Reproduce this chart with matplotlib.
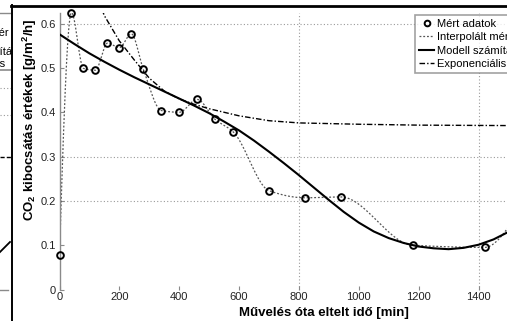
import numpy as np
import matplotlib
matplotlib.use("Agg")
import matplotlib.pyplot as plt

plt.rcParams['font.family'] = ['Liberation Sans', 'DejaVu Sans']
plt.rcParams['mathtext.fontset'] = 'custom'
plt.rcParams['mathtext.bf'] = 'Liberation Sans:bold'
plt.rcParams['mathtext.rm'] = 'Liberation Sans:bold'
plt.rcParams['mathtext.default'] = 'bf'

# ---------------- data ----------------
time_min = [0, 40, 80, 120, 160, 200, 240, 280, 340, 400, 460, 520, 580,
            700, 820, 940, 1180, 1420, 1540]
co2_measured = [0.078, 0.625, 0.499, 0.495, 0.556, 0.546, 0.577, 0.497, 0.404,
                0.400, 0.429, 0.384, 0.356, 0.223, 0.207, 0.209, 0.100, 0.095, 0.18]

model_time = [0, 50, 100, 150, 200, 250, 300, 350, 400, 450, 500, 550, 600,
              650, 700, 750, 800, 850, 900, 950, 1000, 1050, 1100, 1150, 1200,
              1250, 1300, 1350, 1400, 1450, 1500]
model_values = [0.576, 0.554, 0.533, 0.514, 0.496, 0.479, 0.463, 0.447, 0.431,
                0.415, 0.398, 0.379, 0.359, 0.336, 0.311, 0.285, 0.258, 0.230,
                0.202, 0.175, 0.151, 0.131, 0.116, 0.105, 0.097, 0.093, 0.091,
                0.094, 0.101, 0.113, 0.130]

exp_time = [120, 150, 200, 250, 300, 350, 400, 450, 500, 600, 700, 800, 1000,
            1200, 1500]
exp_values = [0.670, 0.618, 0.561, 0.518, 0.477, 0.448, 0.430, 0.418, 0.408,
              0.392, 0.381, 0.376, 0.373, 0.371, 0.370]

x_ticks = [0, 200, 400, 600, 800, 1000, 1200, 1400]
y_ticks = [0, 0.1, 0.2, 0.3, 0.4, 0.5, 0.6]
y_tick_labels = ['0', '0.1', '0.2', '0.3', '0.4', '0.5', '0.6']

legend_labels = ['Mért adatok', 'Interpolált mérési adatok', 'Modell számítás',
                 'Exponenciális illesztés']


def pchip(x, y, xq):
    x = np.asarray(x, float)
    y = np.asarray(y, float)
    xq = np.asarray(xq, float)
    h = np.diff(x)
    d = np.diff(y) / h
    n = len(x)
    m = np.zeros(n)
    for k in range(1, n - 1):
        if d[k - 1] * d[k] > 0:
            w1 = 2 * h[k] + h[k - 1]
            w2 = h[k] + 2 * h[k - 1]
            m[k] = (w1 + w2) / (w1 / d[k - 1] + w2 / d[k])

    def end(h0, h1, d0, d1):
        s = ((2 * h0 + h1) * d0 - h0 * d1) / (h0 + h1)
        if np.sign(s) != np.sign(d0):
            s = 0.0
        elif np.sign(d0) != np.sign(d1) and abs(s) > abs(3 * d0):
            s = 3 * d0
        return s

    m[0] = end(h[0], h[1], d[0], d[1])
    m[-1] = end(h[-1], h[-2], d[-1], d[-2])
    idx = np.clip(np.searchsorted(x, xq) - 1, 0, n - 2)
    t = (xq - x[idx]) / h[idx]
    hh = h[idx]
    h00 = 2 * t**3 - 3 * t**2 + 1
    h10 = t**3 - 2 * t**2 + t
    h01 = -2 * t**3 + 3 * t**2
    h11 = t**3 - t**2
    return h00 * y[idx] + h10 * hh * m[idx] + h01 * y[idx + 1] + h11 * hh * m[idx + 1]


W, H = 507, 321
fig = plt.figure(figsize=(W / 100, H / 100), dpi=100)
fig.patch.set_facecolor('white')

x0_px, y0_px, ytop_px = 59.5, 289.5, 12.6
px_per_min = 0.2993
xmax = (W - x0_px) / px_per_min
ax = fig.add_axes([x0_px / W, (H - y0_px) / H, (W - x0_px) / W, (y0_px - ytop_px) / H])
ax.set_xlim(0, xmax)
ax.set_ylim(0, 0.625)

for s in ['top', 'right', 'bottom']:
    ax.spines[s].set_visible(False)
ax.spines['left'].set_color('#8a8a8a')
ax.spines['left'].set_linewidth(1.0)

# visible grid lines
for gy in [0.2, 0.3, 0.6]:
    ax.axhline(gy, color='#9a9a9a', lw=0.8, ls=(0, (1, 2)), zorder=0)
for gx in [800, 1400]:
    ax.axvline(gx, color='#9a9a9a', lw=0.8, ls=(0, (1, 2)), zorder=0)

xf = np.linspace(time_min[0], time_min[-1], 800)
yf = pchip(time_min, co2_measured, xf)
l_int, = ax.plot(xf, yf, color='#555555', lw=0.9, ls=(0, (1.5, 1.5)), zorder=2)
l_mod, = ax.plot(model_time, model_values, color='black', lw=1.5, zorder=3)
l_exp, = ax.plot(exp_time, exp_values, color='black', lw=1.0,
                 ls=(0, (4, 1.5, 1, 1.5)), zorder=3)
l_pts, = ax.plot(time_min, co2_measured, ls='none', marker='o', ms=4.8,
                 mfc='none', mec='black', mew=1.4, zorder=4, clip_on=False)

ax.set_xticks(x_ticks)
ax.set_xticklabels([str(v) for v in x_ticks])
ax.set_yticks(y_ticks)
ax.set_yticklabels(y_tick_labels)
ax.tick_params(direction='in', length=3, color='#8a8a8a', labelsize=8,
               labelcolor='#222222')
ax.tick_params(axis='x', pad=2)
ax.tick_params(axis='y', pad=2.5)

leg = ax.legend([l_pts, l_int, l_mod, l_exp], legend_labels, loc='upper left',
                bbox_to_anchor=(415 / W, 1 - 15 / H), bbox_transform=fig.transFigure,
                fontsize=8, frameon=True, fancybox=False, handlelength=1.4,
                handletextpad=0.25, labelspacing=0.3, borderpad=0.35,
                borderaxespad=0, markerscale=0.85)
leg.get_frame().set_edgecolor('#8a8a8a')
leg.get_frame().set_linewidth(1.2)

fig.text(324 / W, 1 - 313 / H, 'Művelés óta eltelt idő [min]', ha='center',
         va='center', fontsize=9.5, fontweight='bold')
fig.text(30 / W, 1 - 120 / H, 'CO$_2$ kibocsátás értékek [g/m$^2$/h]',
         rotation=90, ha='center', va='center', fontsize=9.5, fontweight='bold')

# ---- decorative frame: neighbouring panel strip and borders (pixel coords) ----
ov = fig.add_axes([0, 0, 1, 1], zorder=10)
ov.set_xlim(0, W)
ov.set_ylim(H, 0)
ov.axis('off')
ov.patch.set_alpha(0)

strip = fig.add_axes([0, 0, 11 / W, 1], zorder=9)
strip.set_xlim(0, 11)
strip.set_ylim(H, 0)
strip.axis('off')
strip.plot([0, 11], [13, 13], color='#8a8a8a', lw=1.0)
strip.plot([0, 11], [70, 70], color='#8a8a8a', lw=1.2)
strip.text(9, 33, 'Interpolált mér', ha='right', va='center', fontsize=8, clip_on=True)
strip.text(12, 52, 'Modell számítá', ha='right', va='center', fontsize=8, clip_on=True)
strip.text(5.5, 64, 'Exponenciális', ha='right', va='center', fontsize=8, clip_on=True)
strip.plot([0, 11], [88, 88], color='#9a9a9a', lw=0.8, ls=(0, (1, 2)))
strip.plot([0, 11], [115, 115], color='#9a9a9a', lw=0.8, ls=(0, (1, 2)))
strip.plot([0, 11], [157, 157], color='black', lw=1.0, ls=(0, (3, 1.5)))
strip.plot([0, 10], [252, 242], color='black', lw=1.3)
strip.plot([0, 8], [290, 290], color='#8a8a8a', lw=1.0)

ov.plot([11.5, 11.5], [5, H], color='black', lw=1.4)
ov.plot([10.5, W], [5.5, 5.5], color='black', lw=2.0)

fig.savefig('out.png', dpi=100)
